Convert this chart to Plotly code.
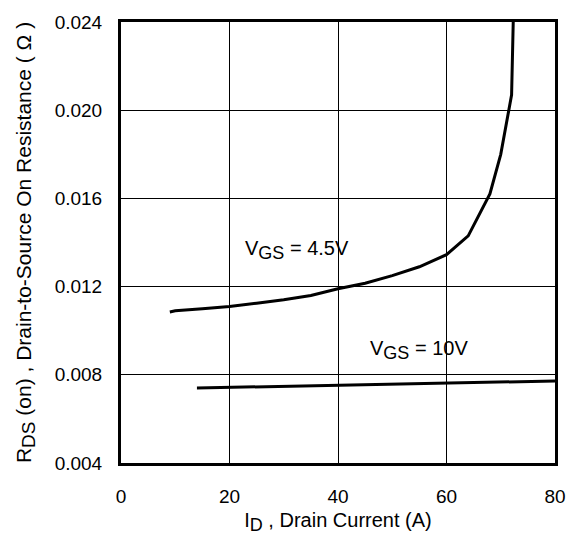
import plotly.graph_objects as go

# R_DS(on) vs drain current, two gate voltages
id_45 = [9, 10, 15, 20, 25, 30, 35, 40, 45, 50, 55, 60, 64, 68, 70, 71.5, 72, 72.3]
r_45 = [0.01085, 0.01090, 0.01100, 0.01110, 0.01125, 0.01140, 0.01160, 0.01190,
        0.01215, 0.01250, 0.01290, 0.01345, 0.01430, 0.01620, 0.01800, 0.02000,
        0.02070, 0.02400]

id_10 = [14, 30, 50, 70, 80]
r_10 = [0.00740, 0.00748, 0.00757, 0.00766, 0.00772]

x_ticks = [0, 20, 40, 60, 80]
y_ticks = [0.004, 0.008, 0.012, 0.016, 0.020, 0.024]

font_family = "Liberation Sans, Arial, sans-serif"
fs = 19


def sub(t, size):
    return f"<sub><span style='font-size:{size}px'>{t}</span></sub>"


fig = go.Figure()
fig.add_trace(go.Scatter(x=id_45, y=r_45, mode="lines",
                         line=dict(color="black", width=3), showlegend=False))
fig.add_trace(go.Scatter(x=id_10, y=r_10, mode="lines",
                         line=dict(color="black", width=3), showlegend=False))

fig.add_annotation(x=22.5, y=0.01366, text="V" + sub("GS", 18) + " = 4.5V", showarrow=False,
                   xanchor="left", yanchor="middle",
                   font=dict(family=font_family, size=20, color="black"))
fig.add_annotation(x=45.5, y=0.00912, text="V" + sub("GS", 18) + " = 10V", showarrow=False,
                   xanchor="left", yanchor="middle",
                   font=dict(family=font_family, size=20, color="black"))

fig.update_layout(
    width=568, height=551,
    margin=dict(l=121, r=13, t=22, b=88),
    plot_bgcolor="white", paper_bgcolor="white",
    font=dict(family=font_family, size=fs, color="black"),
    xaxis=dict(range=[0, 80], tickvals=x_ticks, ticks="", ticklabelstandoff=14,
               showgrid=True, gridcolor="black", gridwidth=1,
               showline=True, linecolor="black", linewidth=3, mirror=True,
               zeroline=False, automargin=False,
               title=dict(text="I" + sub("D", 18) + " , Drain Current (A)", standoff=8,
                          font=dict(size=20))),
    yaxis=dict(range=[0.004, 0.024], tickvals=y_ticks, tickformat=".3f", ticks="",
               ticklabelstandoff=12,
               showgrid=True, gridcolor="black", gridwidth=1,
               showline=True, linecolor="black", linewidth=3, mirror=True,
               zeroline=False, automargin=False,
               title=dict(text="R" + sub("DS", 19) + " (on) , Drain-to-Source On Resistance ( Ω )",
                          standoff=18, font=dict(size=21))),
)

fig.write_html("out.html")
